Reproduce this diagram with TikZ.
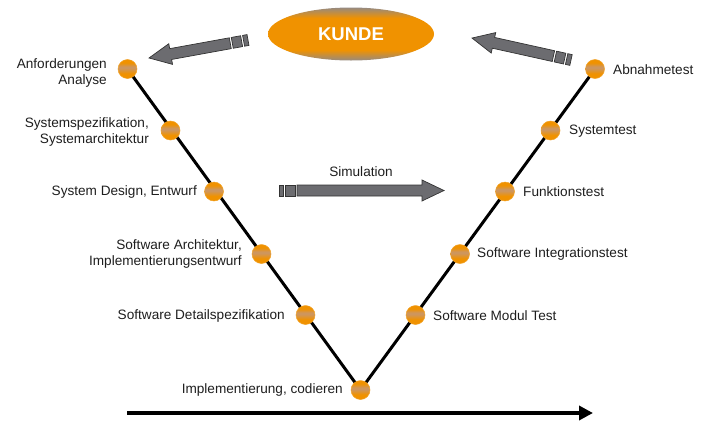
\documentclass[tikz,border=0pt]{standalone}
\usepackage{fontspec}
\setmainfont{Liberation Sans}
\usetikzlibrary{arrows.meta,shapes.geometric}
\definecolor{vorange}{RGB}{240,146,0}
\definecolor{vgray}{RGB}{150,138,128}
\definecolor{dband}{RGB}{205,150,95}
\definecolor{agray}{RGB}{108,108,112}
\definecolor{txt}{RGB}{30,30,30}
\pgfdeclareverticalshading{kundeshade}{100bp}{color(0bp)=(vgray); color(25bp)=(vgray); color(35bp)=(vorange); color(65bp)=(vorange); color(75bp)=(vgray); color(100bp)=(vgray)}
\pgfdeclareverticalshading{dotshade}{100bp}{color(0bp)=(vorange); color(38bp)=(vorange); color(52bp)=(dband); color(56bp)=(dband); color(66bp)=(vorange); color(100bp)=(vorange)}
\pgfdeclarelayer{bg}
\pgfsetlayers{bg,main}
\newcommand\FatArrow[3]{%
  \begin{scope}[shift={#1},rotate=#2]
    \draw[arrowbody] (0,-5.5) rectangle (4.5,5.5);
    \draw[arrowbody] (6.5,-5.5) rectangle (16,5.5);
    \draw[arrowbody] (18,-5.5) -- (#3-22,-5.5) -- (#3-22,-10.5) -- (#3,0)
      -- (#3-22,10.5) -- (#3-22,5.5) -- (18,5.5) -- cycle;
  \end{scope}}
\begin{document}
\begin{tikzpicture}[x=1pt,y=-1pt,
  dot/.style={circle,minimum size=19pt,inner sep=0pt,shade,shading=dotshade,draw=vorange!85!white,line width=0.5pt},
  lbl/.style={font=\fontsize{13.6}{16}\selectfont,text=txt,inner sep=0pt},
  vline/.style={line width=3pt,black},
  arrowbody/.style={fill=agray,draw=black!80,line width=0.7pt,line join=miter},
  kunde/.style={ellipse,minimum width=166pt,minimum height=53pt,inner sep=0pt,shade,shading=kundeshade,text=white,font=\fontsize{18.5}{20}\selectfont\bfseries},
  timeline/.style={line width=3.5pt,black,-{Triangle[length=14pt,width=14pt]}}]
\useasboundingbox (0,0) rectangle (707,421);

% KUNDE ellipse
\node[kunde] (kunde) at (351,34) {KUNDE};

% dots left branch
\node[dot] (l1) at (127.5,69) {};
\node[dot] (l2) at (170.5,130.5) {};
\node[dot] (l3) at (214,191.5) {};
\node[dot] (l4) at (261.5,254) {};
\node[dot] (l5) at (305.5,315) {};
\node[dot] (b)  at (360.5,390) {};
% dots right branch
\node[dot] (r5) at (415.5,315) {};
\node[dot] (r4) at (460,254) {};
\node[dot] (r3) at (505,191.5) {};
\node[dot] (r2) at (550.5,130.5) {};
\node[dot] (r1) at (595,69) {};

\begin{pgfonlayer}{bg}
  \draw[vline] (l1.center) -- (b.center) -- (r1.center);
\end{pgfonlayer}

% left labels
\node[lbl,anchor=east,align=right] (t1) at (107,73) {Anforderungen\\Analyse};
\node[lbl,anchor=east,align=right] (t2) at (149,132) {Systemspezifikation,\\Systemarchitektur};
\node[lbl,anchor=east] (t3) at (197,192) {System Design, Entwurf};
\node[lbl,anchor=east,align=right] (t4) at (242,253.5) {Software Architektur,\\Implementierungsentwurf};
\node[lbl,anchor=east] (t5) at (285,315.5) {Software Detailspezifikation};
\node[lbl,anchor=east] (t6) at (343,390) {Implementierung, codieren};
% right labels
\node[lbl,anchor=west] (s1) at (613,70) {Abnahmetest};
\node[lbl,anchor=west] (s2) at (569,131) {Systemtest};
\node[lbl,anchor=west] (s3) at (523,191.5) {Funktionstest};
\node[lbl,anchor=west] (s4) at (477,253.5) {Software Integrationstest};
\node[lbl,anchor=west] (s5) at (433,316) {Software Modul Test};

% Simulation label
\node[lbl] (sim) at (361,171.5) {Simulation};

% fat arrows
\FatArrow{(248,40)}{190.3}{100.6}
\FatArrow{(571,60)}{167.5}{101.4}
\FatArrow{(279,190.5)}{0}{165}

% timeline arrow
\coordinate (ta) at (127,413);
\coordinate (tb) at (593,413);
\draw[timeline] (ta) -- (tb);
\end{tikzpicture}
\end{document}
